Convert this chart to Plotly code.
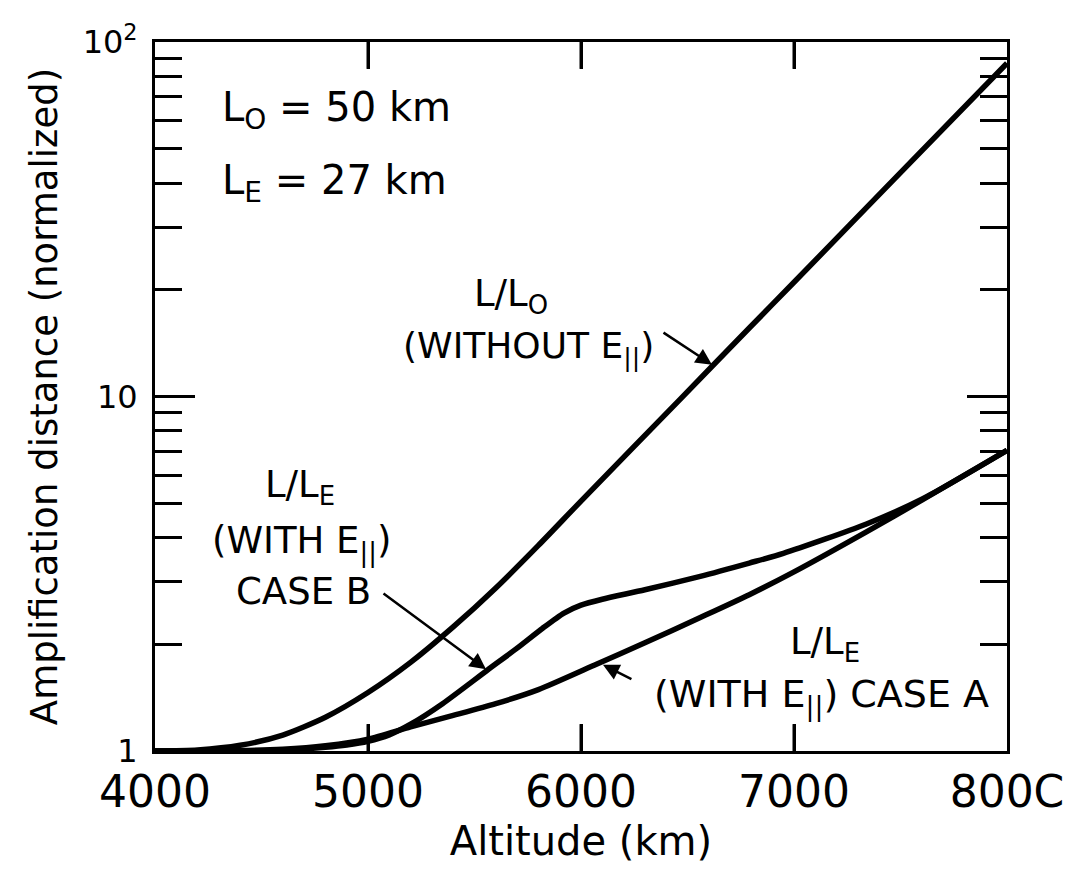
import math
import plotly.graph_objects as go

# ---- data ----
alt_L0 = [4000, 4200, 4400, 4600, 4800, 5000, 5200, 5400, 5600, 5800, 6000, 6465, 6790, 7000, 7500, 8000]
ratio_L0 = [1.0, 1.007, 1.038, 1.109, 1.245, 1.462, 1.778, 2.239, 2.884, 3.802, 5.07, 9.82, 15.6, 21.0, 42.8, 87.1]

alt_A = [4000, 4400, 4600, 4800, 5000, 5200, 5400, 5600, 5800, 6075, 6300, 6560, 6790, 7000, 7340, 7600, 8000]
ratio_A = [1.0, 1.003, 1.012, 1.035, 1.08, 1.17, 1.26, 1.36, 1.49, 1.76, 2.02, 2.38, 2.76, 3.2, 4.15, 5.1, 7.05]

alt_B = [4000, 4400, 4600, 4800, 4900, 5000, 5100, 5200, 5350, 5560, 5700, 5820, 5920, 6000, 6100, 6300, 6560, 6790, 6950, 7340, 7600, 8000]
ratio_B = [1.0, 1.0, 1.005, 1.025, 1.04, 1.065, 1.11, 1.19, 1.36, 1.69, 1.95, 2.22, 2.45, 2.58, 2.68, 2.85, 3.11, 3.39, 3.61, 4.37, 5.13, 7.05]

x_range = [4000, 8000]
y_range_log = [0, 2]
x_ticks = [4000, 5000, 6000, 7000, 8000]
x_ticktext = ["4000", "5000", "6000", "7000", "800C"]
x_tickmarks = [5000, 6000, 7000]
y_ticks = [1, 10, 100]
y_ticktext = ["1", "10", "10<sup>2</sup>"]
y_major_marks = [10]
y_minor_marks = [2, 3, 4, 5, 6, 7, 8, 9, 20, 30, 40, 50, 60, 70, 80, 90]

FONT = "DejaVu Sans"
INK = "black"

# plot area in pixels: left 155, right 1007, top 42, bottom 754
W, H = 1077, 869
L, R, T, B = 155, 1077 - 1007, 42, 869 - 754
PW, PH = W - L - R, H - T - B
X_TICKLEN, Y_MAJOR_TICKLEN, Y_MINOR_TICKLEN = 27, 40, 27

fig = go.Figure()
for xs, ys, name in [(alt_L0, ratio_L0, "L/L0"), (alt_A, ratio_A, "case A"), (alt_B, ratio_B, "case B")]:
    fig.add_trace(go.Scatter(x=xs, y=ys, mode="lines", name=name,
                             line=dict(color=INK, width=5.5, shape="spline", smoothing=0.7),
                             showlegend=False, hoverinfo="skip"))

# inside major tick marks as layout shapes, placed on the axes' own scales
shapes = []
tick_line = dict(color=INK, width=3)
for t in x_tickmarks:
    shapes.append(dict(type="line", xref="x", yref="y domain", x0=t, x1=t,
                       y0=0, y1=X_TICKLEN / PH, line=tick_line, layer="above"))
    shapes.append(dict(type="line", xref="x", yref="y domain", x0=t, x1=t,
                       y0=1, y1=1 - X_TICKLEN / PH, line=tick_line, layer="above"))
for t in y_major_marks:
    yd = (math.log10(t) - y_range_log[0]) / (y_range_log[1] - y_range_log[0])
    shapes.append(dict(type="line", xref="x domain", yref="y domain", x0=0, x1=Y_MAJOR_TICKLEN / PW,
                       y0=yd, y1=yd, line=tick_line, layer="above"))
    shapes.append(dict(type="line", xref="x domain", yref="y domain", x0=1, x1=1 - Y_MAJOR_TICKLEN / PW,
                       y0=yd, y1=yd, line=tick_line, layer="above"))


def px(xp):
    return (xp - L) / PW


def py(yp):
    return (H - B - yp) / PH


texts = [
    ("L<sub>O</sub> = 50 km", 220, 110, 40, "left"),
    ("L<sub>E</sub> = 27 km", 220, 184, 40, "left"),
    ("L/L<sub>O</sub>", 511, 297, 37, "center"),
    ("(WITHOUT E<sub>||</sub>)", 528, 350, 36, "center"),
    ("L/L<sub>E</sub>", 300, 489, 37, "center"),
    ("(WITH E<sub>||</sub>)", 301, 546, 37, "center"),
    ("CASE B", 303, 594, 37, "center"),
    ("L/L<sub>E</sub>", 825, 647, 37, "center"),
    ("(WITH E<sub>||</sub>) CASE A", 821, 700, 38, "center"),
]
annotations = []
for t, x0, y0, fs, anc in texts:
    annotations.append(dict(text=t, x=px(x0), y=py(y0), xref="paper", yref="paper",
                            xanchor=anc, yanchor="middle", showarrow=False,
                            font=dict(family=FONT, size=fs, color=INK)))

# arrows: head in data coords, tail as pixel offset
arrows = [
    (6615, 12.3, -50, -33),
    (5554, 1.70, -104, -77),
    (6103, 1.75, 30, 15),
]
for hx, hy, ax, ay in arrows:
    annotations.append(dict(text="", x=hx, y=math.log10(hy), xref="x", yref="y",
                            ax=ax, ay=ay, showarrow=True, arrowhead=2, arrowsize=1.3,
                            arrowwidth=2.5, arrowcolor=INK, standoff=0))

frame = dict(showline=True, linewidth=3, linecolor=INK, mirror="allticks",
             showgrid=False, zeroline=False)

fig.update_layout(
    width=W, height=H,
    margin=dict(l=L, r=R, t=T, b=B, pad=0),
    paper_bgcolor="white", plot_bgcolor="white",
    font=dict(family=FONT, color=INK),
    annotations=annotations,
    shapes=shapes,
    xaxis=dict(range=x_range, tickmode="array", tickvals=x_ticks, ticktext=x_ticktext,
               ticks="inside", ticklen=X_TICKLEN, tickwidth=3, tickcolor=INK,
               tickfont=dict(family=FONT, size=44, color=INK),
               title=dict(text="Altitude (km)", font=dict(family=FONT, size=40, color=INK), standoff=12),
               **frame),
    yaxis=dict(type="log", range=y_range_log, tickmode="array", tickvals=y_ticks, ticktext=y_ticktext,
               ticks="inside", ticklen=Y_MAJOR_TICKLEN, tickwidth=3, tickcolor=INK,
               minor=dict(ticks="inside", ticklen=Y_MINOR_TICKLEN, tickwidth=3, tickcolor=INK,
                          tickmode="array", tickvals=y_minor_marks, showgrid=False),
               tickfont=dict(family=FONT, size=32, color=INK), ticklabelstandoff=8,
               title=dict(text="Amplification distance (normalized)",
                          font=dict(family=FONT, size=37, color=INK), standoff=14),
               **frame),
)

fig.write_html("out.html")
